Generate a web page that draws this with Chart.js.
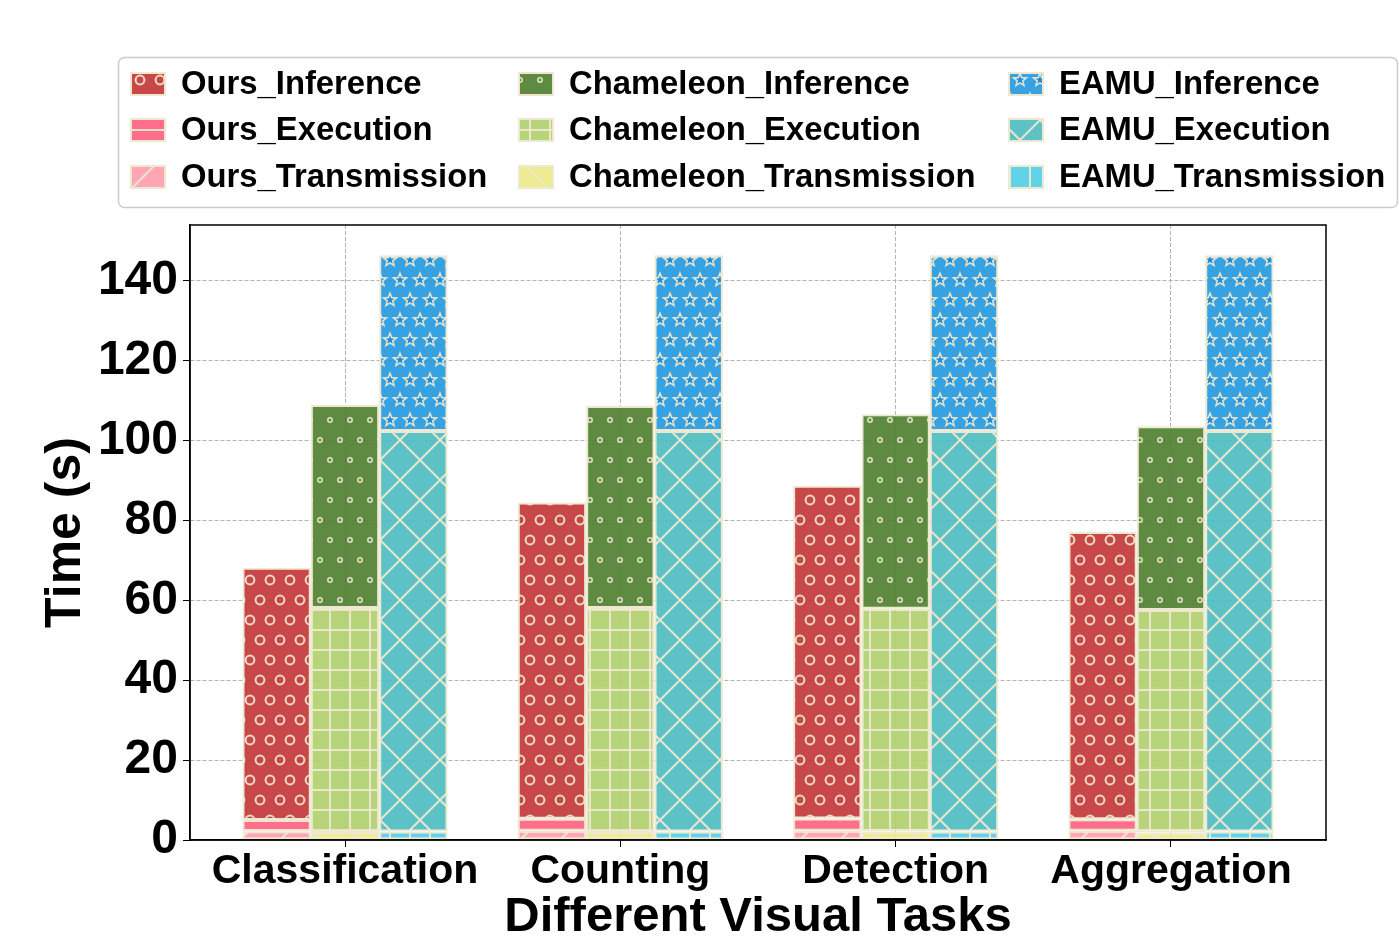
<!DOCTYPE html>
<html>
<head>
<meta charset="utf-8">
<script src="https://cdn.jsdelivr.net/npm/chart.js@4.4.1/dist/chart.umd.min.js"></script>
<style>
  html, body { margin: 0; padding: 0; background: #fff; }
</style>
</head>
<body>
<canvas id="timeChart" width="1399" height="942"></canvas>
<script>
const tasks = ['Classification', 'Counting', 'Detection', 'Aggregation'];

const oursTrans = [2.2, 2.3, 2.3, 2.3];
const oursExec = [2.8, 3.0, 3.1, 2.9];
const oursInfer = [63.2, 79.2, 83.3, 71.9];

const chamTrans = [2.0, 2.0, 2.1, 1.9];
const chamExec = [56.1, 56.1, 55.8, 55.7];
const chamInfer = [50.8, 50.6, 48.7, 46.0];

const eamuTrans = [2.1, 2.1, 2.1, 2.1];
const eamuExec = [100.3, 100.3, 100.3, 100.3];
const eamuInfer = [44.0, 44.0, 44.0, 44.0];

const yTicks = [0, 20, 40, 60, 80, 100, 120, 140];

const FONT = '"Liberation Sans", Arial, sans-serif';
const EDGE = '#ede8cf';
const X_MIN = -0.563, X_MAX = 3.563;

// little tiles that imitate the matplotlib hatches
function makeHatch(kind, color) {
    const c = document.createElement('canvas');
    c.width = 40; c.height = 40;
    const g = c.getContext('2d');
    g.fillStyle = color;
    g.fillRect(0, 0, 40, 40);
    g.strokeStyle = 'rgba(237,232,207,0.95)';
    g.lineWidth = 2;
    const line = (x1, y1, x2, y2) => { g.beginPath(); g.moveTo(x1, y1); g.lineTo(x2, y2); g.stroke(); };
    const pts = [[0, 0], [20, 0], [40, 0], [10, 20], [30, 20], [0, 40], [20, 40], [40, 40]];

    if (kind === 'O' || kind === 'o') {
        const r = kind === 'O' ? 4.4 : 2.2;
        g.lineWidth = kind === 'O' ? 2 : 1.5;
        pts.forEach(([x, y]) => { g.beginPath(); g.arc(x, y, r, 0, Math.PI * 2); g.stroke(); });
    } else if (kind === '*') {
        g.lineWidth = 1.6;
        pts.forEach(([x, y]) => {
            g.beginPath();
            for (let k = 0; k < 10; k++) {
                const rr = k % 2 === 0 ? 6.8 : 2.9;
                const a = -Math.PI / 2 + k * Math.PI / 5;
                const px = x + rr * Math.cos(a), py = y + rr * Math.sin(a);
                if (k === 0) g.moveTo(px, py); else g.lineTo(px, py);
            }
            g.closePath();
            g.fillStyle = '#1a8fe0';
            g.fill();
            g.stroke();
        });
    }
    if (kind === '-' || kind === '+') { line(0, 10, 40, 10); line(0, 30, 40, 30); }
    if (kind === '|' || kind === '+') { line(10, 0, 10, 40); line(30, 0, 30, 40); }
    if (kind === '/' || kind === 'x') { [0, 40, 80].forEach(s => line(s, 0, s - 40, 40)); }
    if (kind === '\\' || kind === 'x') { [-40, 0, 40].forEach(s => line(s, 0, s + 40, 40)); }

    return g.createPattern(c, 'repeat');
}

function series(label, values, stack, kind, color) {
    return {
        label: label,
        data: values.map((v, i) => ({ x: i, y: v })),
        stack: stack,
        backgroundColor: makeHatch(kind, color),
        borderColor: EDGE,
        borderWidth: 2,
        borderSkipped: false
    };
}

const datasets = [
    series('Ours_Transmission', oursTrans, 'ours', '/', 'rgba(255,156,172,0.9)'),
    series('Ours_Execution', oursExec, 'ours', '-', 'rgba(255,94,125,0.9)'),
    series('Ours_Inference', oursInfer, 'ours', 'O', 'rgba(194,52,54,0.9)'),
    series('Chameleon_Transmission', chamTrans, 'cham', '\\', 'rgba(236,234,132,0.9)'),
    series('Chameleon_Execution', chamExec, 'cham', '+', 'rgba(176,207,107,0.9)'),
    series('Chameleon_Inference', chamInfer, 'cham', 'o', 'rgba(77,125,44,0.9)'),
    series('EAMU_Transmission', eamuTrans, 'eamu', '|', 'rgba(80,206,229,0.9)'),
    series('EAMU_Execution', eamuExec, 'eamu', 'x', 'rgba(74,187,192,0.9)'),
    series('EAMU_Inference', eamuInfer, 'eamu', '*', 'rgba(32,152,223,0.9)')
];

const legendCols = [
    ['Ours_Inference', 'Ours_Execution', 'Ours_Transmission'],
    ['Chameleon_Inference', 'Chameleon_Execution', 'Chameleon_Transmission'],
    ['EAMU_Inference', 'EAMU_Execution', 'EAMU_Transmission']
];

// three column legend, column-major like matplotlib's ncol=3
const gridLegend = {
    id: 'gridLegend',
    afterDraw(chart) {
        const ctx = chart.ctx;
        const colX = [131, 519, 1009];
        const rowY = [84, 130, 177];
        ctx.save();
        ctx.beginPath();
        ctx.roundRect(118.5, 57.5, 1279, 150, 6);
        ctx.fillStyle = 'rgba(255,255,255,0.8)';
        ctx.fill();
        ctx.strokeStyle = '#cccccc';
        ctx.lineWidth = 1.5;
        ctx.stroke();
        ctx.font = 'bold 32.8px ' + FONT;
        ctx.textBaseline = 'middle';
        legendCols.forEach((col, ci) => {
            col.forEach((label, ri) => {
                const ds = chart.data.datasets.find(d => d.label === label);
                const x = colX[ci], y = rowY[ri];
                ctx.fillStyle = ds.backgroundColor;
                ctx.fillRect(x, y - 11, 34, 22);
                ctx.strokeStyle = EDGE;
                ctx.lineWidth = 2;
                ctx.strokeRect(x, y - 11, 34, 22);
                ctx.fillStyle = '#000';
                ctx.fillText(label, x + 50, y + 1);
            });
        });
        ctx.restore();
    }
};

const frame = {
    id: 'frame',
    afterDatasetsDraw(chart) {
        const { left, top, right, bottom } = chart.chartArea;
        const ctx = chart.ctx;
        ctx.save();
        ctx.strokeStyle = '#000';
        ctx.lineWidth = 1.5;
        ctx.strokeRect(left, top, right - left, bottom - top);
        ctx.restore();
    }
};

Chart.defaults.font.family = FONT;

new Chart(document.getElementById('timeChart'), {
    type: 'bar',
    data: { datasets: datasets },
    plugins: [gridLegend, frame],
    options: {
        responsive: false,
        devicePixelRatio: 1,
        animation: false,
        categoryPercentage: 0.745,
        barPercentage: 1.0,
        layout: { padding: { top: 225, right: 73, left: 0, bottom: 0 } },
        plugins: {
            legend: { display: false },
            tooltip: { enabled: false }
        },
        scales: {
            x: {
                type: 'linear',
                stacked: true,
                offset: false,
                min: X_MIN,
                max: X_MAX,
                afterBuildTicks: s => {
                    s.ticks = tasks.map((t, i) => ({ value: i }));
                    s.min = X_MIN;
                    s.max = X_MAX;
                },
                afterFit: s => { s.height = 102; },
                ticks: {
                    callback: v => tasks[v],
                    color: '#000',
                    font: { size: 41, weight: 'bold' },
                    padding: 0,
                    maxRotation: 0,
                    autoSkip: false
                },
                grid: { offset: false, color: '#b5b5b5', lineWidth: 1, tickColor: '#000', tickLength: 7, tickBorderDash: [] },
                border: { color: '#000', width: 1.5, dash: [4, 2] },
                title: {
                    display: true,
                    text: 'Different Visual Tasks',
                    color: '#000',
                    font: { size: 49, weight: 'bold', lineHeight: 1.0 },
                    padding: { top: 0, bottom: 0 }
                }
            },
            y: {
                stacked: true,
                min: 0,
                max: 154,
                afterBuildTicks: s => { s.ticks = yTicks.map(v => ({ value: v })); },
                afterFit: s => { s.width = 190; },
                ticks: {
                    color: '#000',
                    font: { size: 48, weight: 'bold' },
                    padding: 5
                },
                grid: { color: '#b5b5b5', lineWidth: 1, tickColor: '#000', tickLength: 7, tickBorderDash: [] },
                border: { color: '#000', width: 1.5, dash: [4, 2] },
                title: {
                    display: true,
                    text: 'Time (s)',
                    color: '#000',
                    font: { size: 50, weight: 'bold' },
                    padding: { top: 36, bottom: 0 }
                }
            }
        }
    }
});
</script>
</body>
</html>
